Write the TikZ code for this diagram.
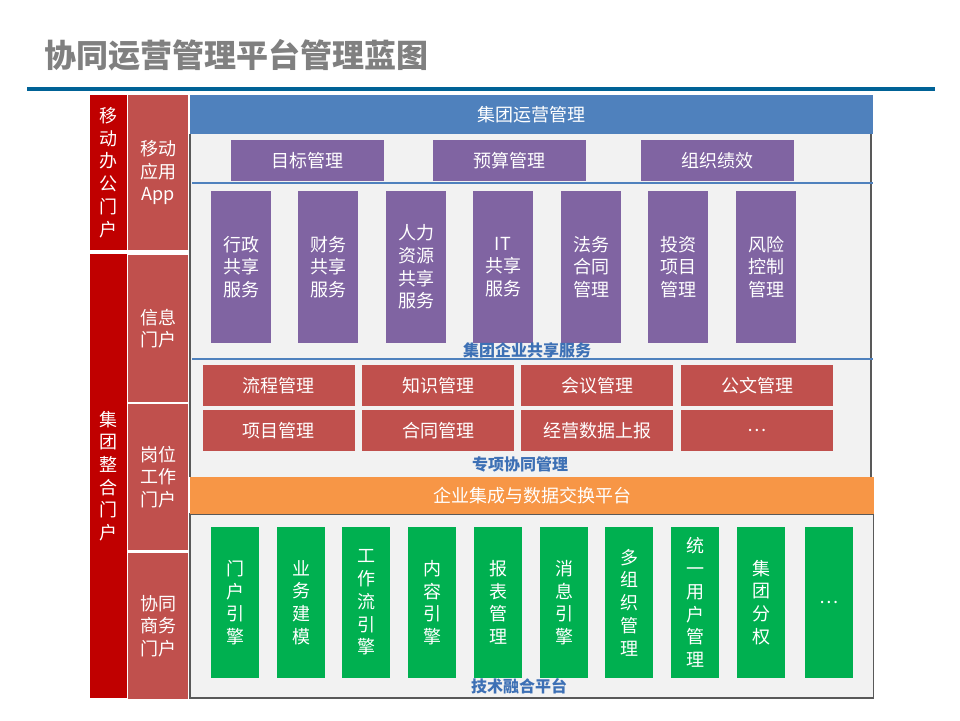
\documentclass[tikz,border=0pt]{standalone}
\usepackage{fontspec}
\setmainfont{Noto Sans CJK SC}
\usetikzlibrary{positioning}
\definecolor{portalred}{RGB}{192,0,0}
\definecolor{appred}{RGB}{192,80,77}
\definecolor{headblue}{RGB}{79,129,189}
\definecolor{labelblue}{RGB}{61,112,181}
\definecolor{ruleblue}{RGB}{0,98,150}
\definecolor{svcpurple}{RGB}{128,100,162}
\definecolor{techgreen}{RGB}{0,176,80}
\definecolor{xchorange}{RGB}{247,150,70}
\definecolor{panelgray}{RGB}{242,242,242}
\definecolor{framegray}{RGB}{89,89,89}
\definecolor{titlegray}{RGB}{128,128,128}

\begin{document}
\begin{tikzpicture}[x=1pt, y=-1pt,
    box/.style={rectangle, inner sep=0pt, text=white, align=center, font=\fontsize{18}{22.7}\selectfont},
    portal/.style={box, fill=portalred, minimum width=37pt},
    appbox/.style={box, fill=appred, minimum width=60pt},
    purplebox/.style={box, fill=svcpurple},
    redbox/.style={box, fill=appred, minimum width=152pt, minimum height=41pt},
    greenbox/.style={box, fill=techgreen, minimum width=48pt, minimum height=151pt},
    caption/.style={text=labelblue, inner sep=0pt, font=\bfseries\fontsize{16}{17}\selectfont}]
    \fill[white] (0,0) rectangle (960,720);
    \useasboundingbox (0,0) rectangle (960,720);
    \node[anchor=west, inner sep=0pt, text=titlegray, font=\bfseries\fontsize{32}{36}\selectfont] (title) at (44,55) {协同运营管理平台管理蓝图};
    \draw[ruleblue, line width=4pt] (27,89) -- (935,89);

    \node[portal, minimum height=155pt] (mobile) at (108.5,172.5) {移\\动\\办\\公\\门\\户};
    \node[portal, minimum height=444pt] (group) at (108.5,476) {集\\团\\整\\合\\门\\户};
    \node[appbox, minimum height=155pt] (app) at (158,172.5) {移动\\应用\\App};
    \node[appbox, minimum height=147pt] (info) at (158,328.5) {信息\\门户};
    \node[appbox, minimum height=146pt] (post) at (158,477) {岗位\\工作\\门户};
    \node[appbox, minimum height=146pt] (coop) at (158,626) {协同\\商务\\门户};

    \fill[panelgray] (190,134) rectangle (871,477);
    \draw[framegray, line width=1.2pt] (190,134) -- (190,477) (871,134) -- (871,477);
    \node[box, fill=headblue, minimum width=683pt, minimum height=39pt] (ops) at (531.5,114.5) {集团运营管理};
    \foreach \x/\name/\txt in {307.5/goal/目标管理, 509.5/budget/预算管理, 717/perf/组织绩效}
        \node[purplebox, minimum width=153pt, minimum height=41pt] (\name) at (\x,160.5) {\txt};
    \draw[headblue, line width=1.2pt] (192,183) -- (873,183);
    \foreach \x/\name/\txt in {241/admin/行政\\共享\\服务, 328/finance/财务\\共享\\服务, 416/hr/人力\\资源\\共享\\服务, 503/it/IT\\共享\\服务, 591/legal/法务\\合同\\管理, 678/invest/投资\\项目\\管理, 766/risk/风险\\控制\\管理}
        \node[purplebox, minimum width=60pt, minimum height=152pt] (\name) at (\x,267) {\txt};
    \node[caption] (shared) at (527,350) {集团企业共享服务};
    \draw[headblue, line width=1.2pt] (192,359) -- (873,359);

    \foreach \x/\name/\txt in {278.5/flow/流程管理, 438/know/知识管理, 597/meet/会议管理, 757/doc/公文管理}
        \node[redbox] (\name) at (\x,385.5) {\txt};
    \foreach \x/\name/\txt in {278.5/proj/项目管理, 438/contract/合同管理, 597/report/经营数据上报, 757/more/…}
        \node[redbox] (\name) at (\x,430.5) {\txt};
    \node[caption] (special) at (520,464) {专项协同管理};

    \draw[framegray, line width=1.2pt, fill=panelgray] (190,514) rectangle (873.5,698);
    \node[box, fill=xchorange, minimum width=684pt, minimum height=37pt] (exchange) at (532,495.5) {企业集成与数据交换平台};
    \foreach \x/\name/\txt in {235/portaleng/门\\户\\引\\擎, 301/model/业\\务\\建\\模, 366/wfeng/工\\作\\流\\引\\擎, 432/content/内\\容\\引\\擎, 498/reports/报\\表\\管\\理, 564/msg/消\\息\\引\\擎, 629/multiorg/多\\组\\织\\管\\理, 695/users/统\\一\\用\\户\\管\\理, 761/rights/集\\团\\分\\权, 829/etc/…}
        \node[greenbox] (\name) at (\x,602.5) {\txt};
    \node[caption] (tech) at (519,686) {技术融合平台};
\end{tikzpicture}
\end{document}
